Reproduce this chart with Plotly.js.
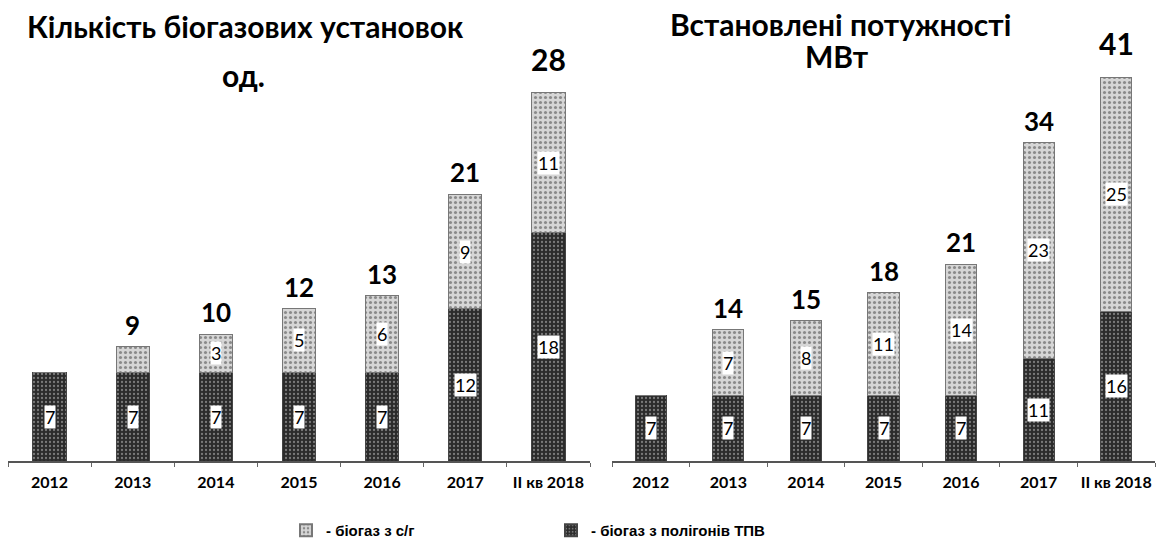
<!DOCTYPE html>
<html>
<head>
<meta charset="utf-8">
<script src="https://cdn.plot.ly/plotly-3.0.1.min.js"></script>
<style>
  html, body { margin: 0; padding: 0; background: #fff; }
  #chart { width: 1158px; height: 547px; }
</style>
</head>
<body>
<div id="chart"></div>
<script>
  // категорії
  const years = ['2012', '2013', '2014', '2015', '2016', '2017', 'II кв 2018'];

  // кількість установок, од.
  const countLandfill = [7, 7, 7, 7, 7, 12, 18];
  const countAgro = [0, 2, 3, 5, 6, 9, 11];
  const countTotals = [null, 9, 10, 12, 13, 21, 28];
  const countLandfillLabels = ['7', '7', '7', '7', '7', '12', '18'];
  const countAgroLabels = [null, null, '3', '5', '6', '9', '11'];

  // встановлені потужності, МВт
  const powerLandfill = [7, 7, 7, 7, 7, 11, 16];
  const powerAgro = [0, 7, 8, 11, 14, 23, 25];
  const powerTotals = [null, 14, 15, 18, 21, 34, 41];
  const powerLandfillLabels = ['7', '7', '7', '7', '7', '11', '16'];
  const powerAgroLabels = [null, '7', '8', '11', '14', '23', '25'];

  const FONT = 'Lato, "Open Sans", sans-serif';
  const W = 1158, H = 547, BASE = 463;

  const darkMarker = {
    color: '#2b2b2b',
    line: { color: '#444', width: 1 },
    pattern: { shape: '.', fgcolor: '#7a7a7a', bgcolor: '#2b2b2b', size: 4, solidity: 0.25 }
  };
  const lightMarker = {
    color: '#d2d2d2',
    line: { color: '#777', width: 1 },
    pattern: { shape: '.', fgcolor: '#8a8a8a', bgcolor: '#d6d6d6', size: 5, solidity: 0.3 }
  };

  const traces = [
    { type: 'bar', x: years, y: countLandfill, name: '- біогаз з полігонів ТПВ', legendgroup: 'tpv',
      marker: darkMarker, xaxis: 'x', yaxis: 'y', hoverinfo: 'skip' },
    { type: 'bar', x: years, y: countAgro, name: '- біогаз з с/г', legendgroup: 'agro',
      marker: lightMarker, xaxis: 'x', yaxis: 'y', hoverinfo: 'skip' },
    { type: 'bar', x: years, y: powerLandfill, name: '- біогаз з полігонів ТПВ', legendgroup: 'tpv', showlegend: false,
      marker: darkMarker, xaxis: 'x2', yaxis: 'y2', hoverinfo: 'skip' },
    { type: 'bar', x: years, y: powerAgro, name: '- біогаз з с/г', legendgroup: 'agro', showlegend: false,
      marker: lightMarker, xaxis: 'x2', yaxis: 'y2', hoverinfo: 'skip' }
  ];

  const annotations = [];

  // підписи всередині стовпців (біла плашка); x — порядковий номер категорії
  function segLabels(labels, bottoms, values, xr, yr) {
    labels.forEach((t, i) => {
      if (t === null) return;
      annotations.push({
        x: i, y: bottoms[i] + values[i] / 2, xref: xr, yref: yr,
        text: t, showarrow: false, bgcolor: '#fff', borderpad: 0,
        font: { family: FONT, size: 18, color: '#000' }
      });
    });
  }
  const zeros = years.map(() => 0);
  segLabels(countLandfillLabels, zeros, countLandfill, 'x', 'y');
  segLabels(countAgroLabels, countLandfill, countAgro, 'x', 'y');
  segLabels(powerLandfillLabels, zeros, powerLandfill, 'x2', 'y2');
  segLabels(powerAgroLabels, powerLandfill, powerAgro, 'x2', 'y2');

  // підсумки над стовпцями
  function totalLabels(totals, a, b, xr, yr) {
    totals.forEach((t, i) => {
      if (t === null) return;
      const big = i === years.length - 1;
      annotations.push({
        x: i, y: a[i] + b[i], xref: xr, yref: yr,
        text: String(t), showarrow: false, yanchor: 'bottom', yshift: big ? 14 : 4,
        font: { family: FONT, size: big ? 30 : 26, color: '#000', weight: 'bold' }
      });
    });
  }
  totalLabels(countTotals, countLandfill, countAgro, 'x', 'y');
  totalLabels(powerTotals, powerLandfill, powerAgro, 'x2', 'y2');

  // заголовки
  function title(text, px, py) {
    annotations.push({
      x: px / W, y: (BASE - py) / BASE, xref: 'paper', yref: 'paper',
      text: text, showarrow: false, xanchor: 'center', yanchor: 'middle',
      font: { family: FONT, size: 30, color: '#000', weight: 'bold' }
    });
  }
  title('Кількість біогазових установок', 245, 26);
  title('од.', 243, 75);
  title('Встановлені потужності', 840, 24);
  title('МВт', 837, 56);

  const xCommon = {
    type: 'category', showline: true, linecolor: '#555', linewidth: 1.5,
    ticks: 'outside', tickson: 'boundaries', ticklen: 4, tickcolor: '#666',
    showgrid: false, zeroline: false, fixedrange: true, ticklabelstandoff: 6,
    tickangle: 0,
    tickfont: { family: FONT, size: 16, color: '#000', weight: 'bold' }
  };
  const yCommon = { visible: false, showgrid: false, zeroline: false, fixedrange: true };

  const layout = {
    width: W, height: H,
    margin: { l: 0, r: 0, t: 0, b: H - BASE },
    paper_bgcolor: '#fff', plot_bgcolor: '#fff',
    barmode: 'stack', bargap: 0.6,
    font: { family: FONT, color: '#000' },
    xaxis: Object.assign({}, xCommon, { domain: [8 / W, 590 / W], anchor: 'y', range: [-0.5, 6.5] }),
    xaxis2: Object.assign({}, xCommon, { domain: [612 / W, 1155 / W], anchor: 'y2', range: [-0.5, 6.5] }),
    yaxis: Object.assign({}, yCommon, { range: [0, BASE / 12.75], anchor: 'x' }),
    yaxis2: Object.assign({}, yCommon, { range: [0, BASE / 9.4], anchor: 'x2' }),
    showlegend: true,
    legend: {
      orientation: 'h', traceorder: 'reversed',
      x: 286 / W, xanchor: 'left', y: (BASE - 533) / BASE, yanchor: 'middle',
      entrywidth: 220, itemsizing: 'constant',
      font: { family: '"Liberation Sans Narrow", "Liberation Sans", sans-serif', size: 15, color: '#000', weight: 'bold' }
    },
    annotations: annotations
  };

  Plotly.newPlot('chart', traces, layout, { displayModeBar: false, staticPlot: true });
</script>
</body>
</html>
